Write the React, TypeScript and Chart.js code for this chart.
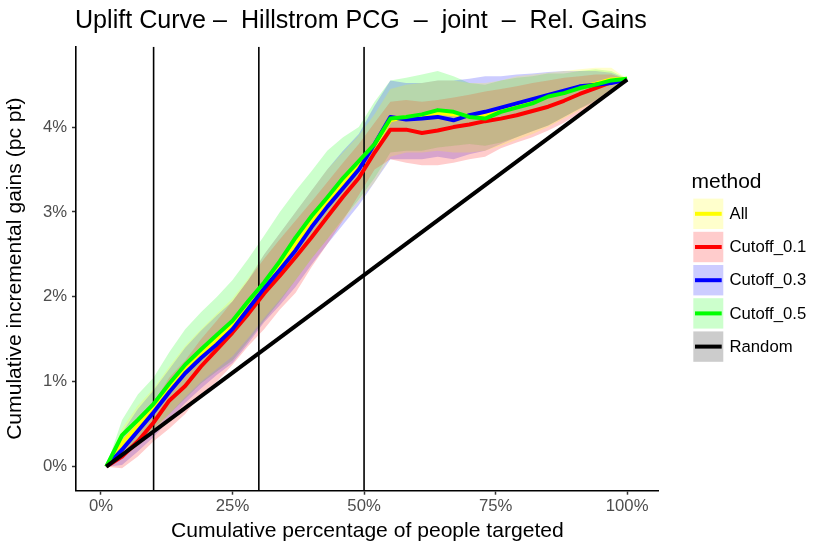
import { useEffect, useRef } from "react"
import { Chart, registerables } from "chart.js"

Chart.register(...registerables)

const FONT = '"Liberation Sans", Arial, Helvetica, sans-serif'

// x: cumulative percentage of people targeted
const pctTargeted = [1, 4, 7, 10, 13, 16, 19, 22, 25, 28, 31, 34, 37, 40, 43, 46, 49, 52, 55, 58, 61, 64, 67, 70, 73, 76, 79, 82, 85, 88, 91, 94, 97, 100]

// gains (pc pt) per method
const gainsAll = [0, 0.28, 0.48, 0.69, 0.93, 1.15, 1.33, 1.5, 1.67, 1.9, 2.14, 2.37, 2.62, 2.88, 3.12, 3.34, 3.56, 3.78, 4.08, 4.12, 4.13, 4.17, 4.15, 4.13, 4.14, 4.2, 4.26, 4.3, 4.37, 4.41, 4.47, 4.51, 4.56, 4.57]
const gainsCut01 = [0, 0.12, 0.3, 0.52, 0.78, 0.95, 1.18, 1.38, 1.58, 1.8, 2.04, 2.25, 2.47, 2.7, 2.94, 3.18, 3.4, 3.7, 3.97, 3.97, 3.93, 3.96, 4.0, 4.03, 4.07, 4.1, 4.14, 4.19, 4.24, 4.31, 4.39, 4.46, 4.53, 4.56]
const gainsCut03 = [0, 0.2, 0.42, 0.64, 0.88, 1.1, 1.28, 1.44, 1.62, 1.86, 2.1, 2.32, 2.55, 2.82, 3.06, 3.28, 3.5, 3.8, 4.12, 4.09, 4.1, 4.12, 4.08, 4.14, 4.18, 4.23, 4.28, 4.33, 4.38, 4.43, 4.48, 4.5, 4.52, 4.56]
const gainsCut05 = [0, 0.37, 0.55, 0.74, 0.98, 1.2, 1.38, 1.55, 1.72, 1.95, 2.17, 2.42, 2.7, 2.95, 3.17, 3.4, 3.6, 3.8, 4.1, 4.12, 4.15, 4.2, 4.18, 4.12, 4.1, 4.18, 4.23, 4.28, 4.36, 4.4, 4.46, 4.5, 4.55, 4.57]

// confidence bands
const lowerAll = [0, 0.1, 0.25, 0.42, 0.62, 0.82, 1.0, 1.15, 1.3, 1.52, 1.75, 1.97, 2.2, 2.45, 2.68, 2.9, 3.12, 3.35, 3.65, 3.7, 3.7, 3.72, 3.7, 3.7, 3.72, 3.78, 3.85, 3.92, 4.0, 4.1, 4.2, 4.3, 4.42, 4.57]
const upperAll = [0, 0.45, 0.72, 0.92, 1.18, 1.42, 1.62, 1.8, 1.98, 2.22, 2.5, 2.75, 3.0, 3.25, 3.5, 3.7, 3.9, 4.15, 4.45, 4.5, 4.52, 4.55, 4.55, 4.52, 4.52, 4.55, 4.6, 4.62, 4.64, 4.66, 4.68, 4.7, 4.7, 4.57]
const lowerCut01 = [0, -0.02, 0.12, 0.3, 0.45, 0.62, 0.85, 1.0, 1.2, 1.42, 1.62, 1.85, 2.05, 2.35, 2.62, 2.9, 3.2, 3.5, 3.62, 3.58, 3.55, 3.55, 3.58, 3.62, 3.65, 3.75, 3.82, 3.88, 3.96, 4.05, 4.17, 4.28, 4.42, 4.56]
const upperCut01 = [0, 0.3, 0.5, 0.75, 1.05, 1.25, 1.5, 1.72, 1.95, 2.2, 2.45, 2.68, 2.9, 3.12, 3.35, 3.58, 3.8, 4.05, 4.3, 4.32, 4.3, 4.32, 4.35, 4.38, 4.42, 4.45, 4.48, 4.52, 4.55, 4.58, 4.6, 4.62, 4.62, 4.56]
const lowerCut03 = [0, 0.02, 0.18, 0.35, 0.55, 0.75, 0.92, 1.08, 1.22, 1.45, 1.7, 1.9, 2.12, 2.38, 2.62, 2.85, 3.08, 3.35, 3.62, 3.62, 3.62, 3.65, 3.62, 3.68, 3.72, 3.8, 3.88, 3.95, 4.02, 4.12, 4.22, 4.3, 4.42, 4.56]
const upperCut03 = [0, 0.4, 0.68, 0.9, 1.15, 1.4, 1.6, 1.78, 1.95, 2.2, 2.5, 2.75, 3.0, 3.25, 3.5, 3.72, 3.92, 4.25, 4.55, 4.52, 4.52, 4.55, 4.55, 4.57, 4.6, 4.6, 4.62, 4.63, 4.65, 4.66, 4.66, 4.66, 4.64, 4.56]
const lowerCut05 = [0, 0.18, 0.3, 0.45, 0.62, 0.8, 0.98, 1.12, 1.25, 1.48, 1.72, 1.95, 2.2, 2.45, 2.68, 2.92, 3.15, 3.4, 3.7, 3.72, 3.72, 3.76, 3.78, 3.8, 3.78, 3.82, 3.88, 3.95, 4.02, 4.12, 4.22, 4.32, 4.45, 4.57]
const upperCut05 = [0, 0.55, 0.85, 1.05, 1.35, 1.62, 1.82, 2.0, 2.2, 2.45, 2.72, 3.0, 3.25, 3.48, 3.72, 3.88, 4.0, 4.3, 4.55, 4.58, 4.62, 4.66, 4.6, 4.52, 4.5, 4.55, 4.58, 4.6, 4.63, 4.63, 4.66, 4.68, 4.66, 4.57]

const randomX = [1, 100]
const randomGains = [0, 4.56]

const cutoffMarks = [10, 30, 50]
const xTickValues = [0, 25, 50, 75, 100]
const yTickValues = [0, 1, 2, 3, 4]

const methods = ["All", "Cutoff_0.1", "Cutoff_0.3", "Cutoff_0.5", "Random"]
const lineColors = ["#FFFF00", "#FF0000", "#0000FF", "#00FF00", "#000000"]
const bandColors = ["rgba(255,255,0,0.2)", "rgba(255,0,0,0.2)", "rgba(0,0,255,0.2)", "rgba(0,255,0,0.2)", "rgba(0,0,0,0.2)"]

const X_MIN = -4.75
const X_MAX = 106
const Y_MIN = -0.283
const Y_MAX = 4.947

const pts = (xs: number[], ys: number[]) => xs.map((x, i) => ({ x, y: ys[i] }))

const titlePlugin = {
  id: "plotTitle",
  afterDraw(chart: Chart) {
    const ctx = chart.ctx
    ctx.save()
    ctx.fillStyle = "#000"
    ctx.font = `25.1px ${FONT}`
    ctx.textBaseline = "alphabetic"
    ctx.textAlign = "left"
    ctx.fillText("Uplift Curve –  Hillstrom PCG  –  joint  –  Rel. Gains", 75, 28.3)
    ctx.restore()
  },
}

const legendPlugin = {
  id: "methodLegend",
  afterDraw(chart: Chart) {
    const ctx = chart.ctx
    ctx.save()
    ctx.fillStyle = "#000"
    ctx.font = `21px ${FONT}`
    ctx.textBaseline = "alphabetic"
    ctx.fillText("method", 691.5, 188.3)
    methods.forEach((m, i) => {
      const cy = 213.8 + i * 33.2
      ctx.fillStyle = bandColors[i]
      ctx.fillRect(693.3, cy - 15.2, 30, 30.4)
      ctx.strokeStyle = lineColors[i]
      ctx.lineWidth = 4
      ctx.lineCap = "butt"
      ctx.beginPath()
      ctx.moveTo(695, cy)
      ctx.lineTo(721.7, cy)
      ctx.stroke()
      ctx.fillStyle = "#000"
      ctx.font = `16.7px ${FONT}`
      ctx.textBaseline = "middle"
      ctx.fillText(m, 729.5, cy + 0.5)
    })
    ctx.restore()
  },
}

export default function App() {
  const canvasRef = useRef<HTMLCanvasElement>(null)
  const chartRef = useRef<Chart | null>(null)

  useEffect(() => {
    if (!canvasRef.current) return
    if (chartRef.current) chartRef.current.destroy()

    const bandsLower = [lowerAll, lowerCut01, lowerCut03, lowerCut05]
    const bandsUpper = [upperAll, upperCut01, upperCut03, upperCut05]
    const gains = [gainsAll, gainsCut01, gainsCut03, gainsCut05]

    const datasets: any[] = []
    // ribbons (lower invisible, upper filled down to lower)
    bandsLower.forEach((lo, i) => {
      datasets.push({
        label: methods[i] + " lower",
        data: pts(pctTargeted, lo),
        borderWidth: 0,
        pointRadius: 0,
        fill: false,
        order: 20,
      })
      datasets.push({
        label: methods[i] + " upper",
        data: pts(pctTargeted, bandsUpper[i]),
        borderWidth: 0,
        pointRadius: 0,
        backgroundColor: bandColors[i],
        fill: "-1",
        order: 20,
      })
    })
    // vertical cut-off markers
    cutoffMarks.forEach((m) => {
      datasets.push({
        label: "cut " + m,
        data: [{ x: m, y: Y_MIN }, { x: m, y: Y_MAX }],
        borderColor: "#000",
        borderWidth: 1.6,
        pointRadius: 0,
        fill: false,
        order: 10,
      })
    })
    // method curves, green on top of blue on top of red on top of yellow
    gains.forEach((g, i) => {
      datasets.push({
        label: methods[i],
        data: pts(pctTargeted, g),
        borderColor: lineColors[i],
        borderWidth: 4,
        borderJoinStyle: "round",
        pointRadius: 0,
        fill: false,
        order: 8 - i,
      })
    })
    datasets.push({
      label: "Random",
      data: pts(randomX, randomGains),
      borderColor: "#000",
      borderWidth: 4,
      pointRadius: 0,
      fill: false,
      order: 0,
    })

    chartRef.current = new Chart(canvasRef.current, {
      type: "line",
      data: { datasets },
      plugins: [titlePlugin, legendPlugin],
      options: {
        animation: false,
        responsive: true,
        maintainAspectRatio: false,
        events: [],
        layout: { padding: { top: 46.7, right: 171.3, left: 0, bottom: 0 } },
        plugins: {
          legend: { display: false },
          tooltip: { enabled: false },
          title: { display: false },
        },
        elements: { line: { tension: 0 } },
        scales: {
          x: {
            type: "linear",
            min: X_MIN,
            max: X_MAX,
            afterBuildTicks: (s: any) => {
              s.ticks = xTickValues.map((v) => ({ value: v }))
            },
            afterFit: (s: any) => {
              s.height = 63.3
            },
            grid: { drawOnChartArea: false, drawTicks: true, tickLength: 4, tickColor: "#333333", tickWidth: 1.5 },
            border: { display: true, color: "#000", width: 1.6 },
            ticks: {
              callback: (v: any) => v + "%",
              color: "#4D4D4D",
              font: { family: FONT, size: 16.7 },
              padding: 2,
              maxRotation: 0,
              autoSkip: false,
            },
            title: {
              display: true,
              text: "Cumulative percentage of people targeted",
              color: "#000",
              font: { family: FONT, size: 21.1 },
              padding: { top: 0, bottom: 10 },
            },
          },
          y: {
            type: "linear",
            min: Y_MIN,
            max: Y_MAX,
            afterBuildTicks: (s: any) => {
              s.ticks = yTickValues.map((v) => ({ value: v }))
            },
            afterFit: (s: any) => {
              s.width = 76
            },
            grid: { drawOnChartArea: false, drawTicks: true, tickLength: 4, tickColor: "#333333", tickWidth: 1.5 },
            border: { display: true, color: "#000", width: 1.6 },
            ticks: {
              callback: (v: any) => v + "%",
              color: "#4D4D4D",
              font: { family: FONT, size: 16.7 },
              padding: 5,
            },
            title: {
              display: true,
              text: "Cumulative incremental gains (pc pt)",
              color: "#000",
              font: { family: FONT, size: 21.1 },
              padding: { top: 3, bottom: 0 },
            },
          },
        },
      },
    })

    return () => {
      if (chartRef.current) {
        chartRef.current.destroy()
        chartRef.current = null
      }
    }
  }, [])

  return (
    <div style={{ position: "absolute", left: 0, top: 0, width: 830, height: 554, background: "#fff" }}>
      <canvas ref={canvasRef} />
    </div>
  )
}
